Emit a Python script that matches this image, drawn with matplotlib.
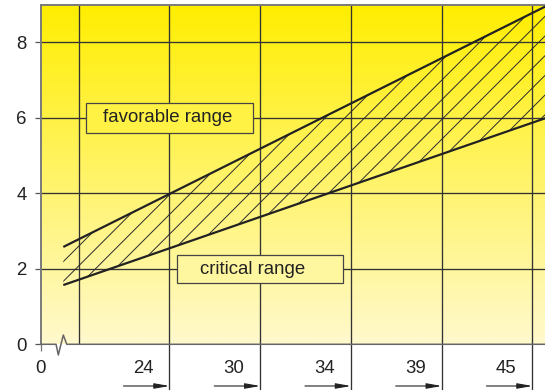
import numpy as np
import matplotlib
matplotlib.use("Agg")
import matplotlib.pyplot as plt
from matplotlib.collections import LineCollection
from matplotlib.patches import Polygon, Rectangle

plt.rcParams['font.family'] = ['Liberation Sans', 'DejaVu Sans']

# Band boundaries (x in grid units, y in axis units)
band_x = [-0.17, 5.14]
upper_y = [2.58, 8.95]
lower_y = [1.57, 5.99]

y_ticks = [0, 2, 4, 6, 8]
grid_x = [0, 1, 2, 3, 4, 5]
x_label_pos = [1, 2, 3, 4, 5]
x_labels = ['24', '30', '34', '39', '45']

TEXT = '#222222'
GRID = '#333333'
FS = 13.4

fig = plt.figure(figsize=(5.45, 3.9), dpi=100)
ax = fig.add_axes([0.0747, 0.1172, 0.9253, 0.8708])
xmin, xmax = -0.419, 5.138
ymin, ymax = 0.0, 9.0
ax.set_xlim(xmin, xmax)
ax.set_ylim(ymin, ymax)

# vertical yellow gradient
top_c = np.array([255, 238, 0]) / 255.0
bot_c = np.array([255, 249, 205]) / 255.0


def grad_color(y):
    t = (ymax - y) / (ymax - ymin)
    return tuple(top_c * (1 - t) + bot_c * t)


t = np.linspace(0, 1, 300)[:, None]
grad = top_c[None, :] * (1 - t) + bot_c[None, :] * t
img = np.repeat(grad[:, None, :], 2, axis=1)
ax.imshow(img, extent=[xmin, xmax, ymin, ymax], aspect='auto',
          origin='upper', zorder=0, interpolation='bilinear')

# grid
ax.hlines(y_ticks[1:], xmin, xmax, colors=GRID, lw=0.95, zorder=1)
ax.vlines(grid_x, ymin, ymax, colors=GRID, lw=0.95, zorder=1)
y_bottom = -1.22
ax.vlines(x_label_pos, y_bottom, ymin, colors=GRID, lw=0.95,
          zorder=1, clip_on=False)

# hatched band between the two boundary lines
poly_xy = list(zip(band_x, upper_y)) + list(zip(band_x[::-1], lower_y[::-1]))
clip_poly = Polygon(poly_xy, closed=True, transform=ax.transData,
                    facecolor='none', edgecolor='none')
ax.add_patch(clip_poly)
fig.canvas.draw()
p0 = ax.transData.transform((0, 0))
p1 = ax.transData.transform((1, 1))
sx, sy = p1[0] - p0[0], p1[1] - p0[1]
slope = sx / sy          # 45 degrees on screen
x0 = (20.0 - (p0[0])) / sx
step = 19.7 / sx
segs = []
for k in range(-5, 40):
    xa = x0 + k * step
    segs.append([(xa, 0.0), (xa + 10.0 / slope, 10.0)])
hatch = LineCollection(segs, colors='#2a2a2a', linewidths=0.7, zorder=2)
hatch.set_clip_path(clip_poly)
ax.add_collection(hatch)

ax.plot(band_x, upper_y, color=TEXT, lw=1.6, zorder=3, solid_capstyle='butt')
ax.plot(band_x, lower_y, color=TEXT, lw=1.6, zorder=3, solid_capstyle='butt')

# labelled boxes
for (bx0, bx1, by0, by1, tx, ty, label) in [
        (0.080, 1.921, 5.597, 6.392, 0.975, 6.0, 'favorable range'),
        (1.083, 2.912, 1.624, 2.366, 1.92, 1.99, 'critical range')]:
    ax.add_patch(Rectangle((bx0, by0), bx1 - bx0, by1 - by0,
                           facecolor=grad_color((by0 + by1) / 2),
                           edgecolor='#444444', lw=0.9, zorder=4))
    ax.text(tx, ty, label, ha='center', va='center', fontsize=FS,
            color=TEXT, zorder=5)

# spines
for s in ['right', 'bottom']:
    ax.spines[s].set_visible(False)
for s in ['left', 'top']:
    ax.spines[s].set_color('#7a7a7a')
    ax.spines[s].set_linewidth(1.4)

# bottom axis line with break mark
bx = [xmin, -0.250, -0.225, -0.170, -0.132, xmax]
by = [0, 0, -0.283, 0.246, 0, 0]
ax.plot(bx, by, color='#666666', lw=1.1, zorder=6, clip_on=False)

ax.set_yticks(y_ticks)
ax.set_yticklabels([str(v) for v in y_ticks])
ax.tick_params(axis='y', length=4.3, width=0.9, color='#555555', pad=5.8,
               labelsize=FS, labelcolor=TEXT)
ax.set_xticks([xmin])
ax.set_xticklabels([''])
ax.tick_params(axis='x', length=5, width=0.9, color='#777777')

# x labels with arrows pointing at their grid line
y_lab = -0.64
ax.text(xmin, y_lab, '0', ha='center', va='center', fontsize=FS,
        color=TEXT, clip_on=False)
for pos, lab in zip(x_label_pos, x_labels):
    ax.text(pos - 0.287, y_lab, lab, ha='center', va='center', fontsize=FS,
            color=TEXT, clip_on=False)
    ax.annotate('', xy=(pos, -1.105), xytext=(pos - 0.507, -1.105),
                arrowprops=dict(arrowstyle='-|>,head_length=0.9,head_width=0.16',
                                color=TEXT, lw=0.8, shrinkA=0, shrinkB=0,
                                mutation_scale=10),
                annotation_clip=False)

fig.savefig('out.png', dpi=100)
